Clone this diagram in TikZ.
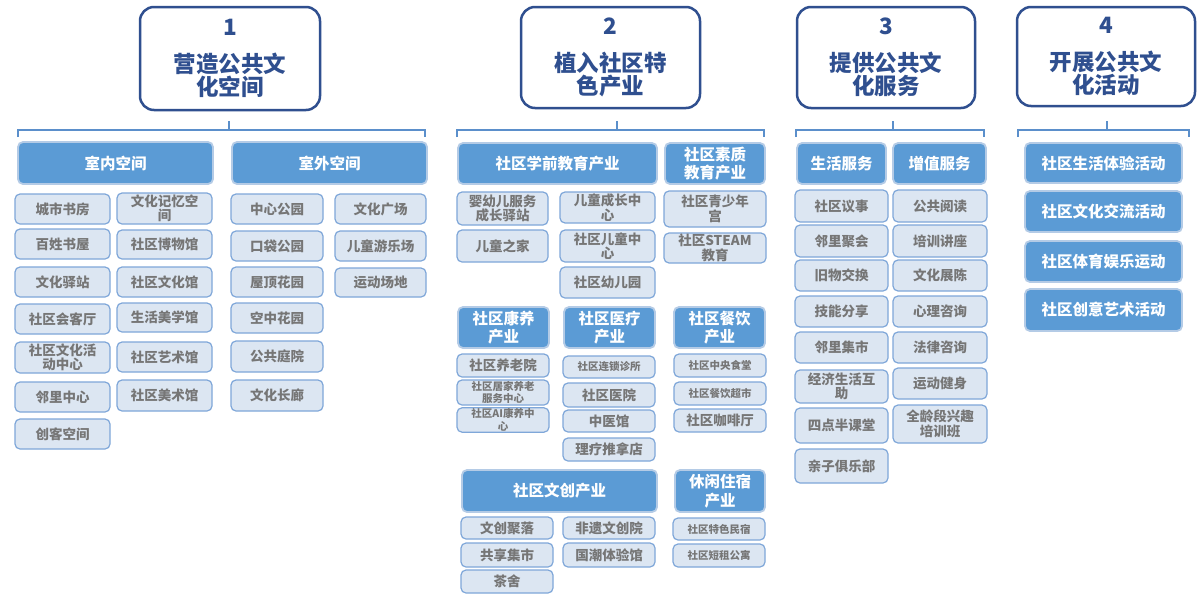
\documentclass[tikz,border=0pt]{standalone}
\usepackage{fontspec}
\setmainfont{Noto Sans CJK SC}
\definecolor{hdr}{HTML}{5B9BD5}
\definecolor{hdrglow}{HTML}{B4CBE6}
\definecolor{itemfill}{HTML}{DCE6F2}
\definecolor{itemdraw}{HTML}{7FA7D9}
\definecolor{itemtxt}{HTML}{767676}
\definecolor{navy}{HTML}{2F4F8F}
\definecolor{brkc}{HTML}{5B8FCB}
\newcommand\mybox[7][it]{\node[#1,minimum width={(#5)-(#3)},minimum height={(#6)-(#4)}] (#2) at ({((#3)+(#5))/2},{((#4)+(#6))/2}) {#7};}
\tikzset{
  base/.style={inner sep=1pt,outer sep=0pt,align=center},
  topbox/.style={base,draw=navy,line width=2.5pt,rounded corners=14pt,fill=white,text=navy,font=\fontsize{22.5}{23.5}\selectfont\bfseries},
  hd/.style={base,fill=hdr,draw=hdrglow,line width=1.8pt,rounded corners=5pt,text=white,font=\fontsize{15.5}{18.5}\selectfont\bfseries},
  it/.style={base,fill=itemfill,draw=itemdraw,line width=1.2pt,rounded corners=5pt,text=itemtxt,font=\fontsize{13.5}{14.5}\selectfont\bfseries},
  its/.style={it,font=\fontsize{10.5}{12.5}\selectfont\bfseries},
  brk/.style={draw=brkc,line width=1.5pt}
}
\begin{document}
\begin{tikzpicture}[x={(1pt,0pt)},y={(0pt,-1pt)}]
\useasboundingbox[fill=white] (0,0) rectangle (1200,611);
% top boxes
\mybox[topbox]{t1}{140}{7}{320}{110}{1\\[13pt]营造公共文\\化空间}
\mybox[topbox]{t2}{521}{7}{700}{108}{2\\[13pt]植入社区特\\色产业}
\mybox[topbox]{t3}{797}{7}{975}{108}{3\\[13pt]提供公共文\\化服务}
\mybox[topbox]{t4}{1017}{7}{1195}{106}{4\\[13pt]开展公共文\\化活动}
% bracket coordinates
\coordinate (k1) at (229,121); \coordinate (a1) at (18,137); \coordinate (z1) at (425,137);
\coordinate (k2) at (617,121); \coordinate (a2) at (457,137); \coordinate (z2) at (764,137);
\coordinate (k3) at (893,121); \coordinate (a3) at (796,137); \coordinate (z3) at (984,137);
\coordinate (k4) at (1107,121); \coordinate (a4) at (1018,137); \coordinate (z4) at (1189,137);
\foreach \i in {1,2,3,4}{
  \draw[brk] (a\i) -- ++(0,-7) -| (z\i);
  \draw[brk] (k\i) -- ++(0,9);
}
% group 1
\mybox[hd]{h11}{18}{142}{213}{184}{室内空间}
\mybox[hd]{h12}{232}{142}{427}{184}{室外空间}
\mybox{c1a}{15}{194}{110}{224}{城市书房}
\mybox{c1b}{15}{229}{110}{259}{百姓书屋}
\mybox{c1c}{15}{267}{110}{297}{文化驿站}
\mybox{c1d}{15}{304}{110}{334}{社区会客厅}
\mybox{c1e}{15}{342}{110}{373}{社区文化活\\动中心}
\mybox{c1f}{15}{382}{110}{412}{邻里中心}
\mybox{c1g}{15}{419}{110}{449}{创客空间}
\mybox{c2a}{117}{193}{212}{224}{文化记忆空\\间}
\mybox{c2b}{117}{230}{212}{259}{社区博物馆}
\mybox{c2c}{117}{267}{212}{297}{社区文化馆}
\mybox{c2d}{117}{303}{212}{332}{生活美学馆}
\mybox{c2e}{117}{342}{212}{372}{社区艺术馆}
\mybox{c2f}{117}{380}{212}{411}{社区美术馆}
\mybox{c3a}{231}{194}{323}{224}{中心公园}
\mybox{c3b}{231}{231}{323}{261}{口袋公园}
\mybox{c3c}{231}{267}{323}{297}{屋顶花园}
\mybox{c3d}{231}{303}{323}{333}{空中花园}
\mybox{c3e}{231}{341}{323}{372}{公共庭院}
\mybox{c3f}{231}{380}{323}{411}{文化长廊}
\mybox{c4a}{335}{194}{426}{224}{文化广场}
\mybox{c4b}{335}{231}{426}{261}{儿童游乐场}
\mybox{c4c}{335}{268}{426}{297}{运动场地}
% group 2
\mybox[hd]{h21}{458}{143}{657}{184}{社区学前教育产业}
\mybox[hd]{h22}{665}{143}{765}{184}{社区素质\\教育产业}
\mybox{d1}{457}{192}{548}{225}{婴幼儿服务\\成长驿站}
\mybox{d2}{560}{192}{655}{223}{儿童成长中\\心}
\mybox{d3}{457}{230}{548}{262}{儿童之家}
\mybox{d4}{560}{230}{655}{262}{社区儿童中\\心}
\mybox{d5}{560}{267}{655}{298}{社区幼儿园}
\mybox{d6}{664}{191}{766}{227}{社区青少年\\宫}
\mybox{d7}{664}{233}{766}{263}{社区STEAM\\教育}
\mybox[hd]{h23}{458}{307}{549}{348}{社区康养\\产业}
\mybox[hd]{h24}{564}{307}{655}{348}{社区医疗\\产业}
\mybox[hd]{h25}{674}{307}{765}{348}{社区餐饮\\产业}
\mybox{e1}{457}{354}{549}{377}{社区养老院}
\mybox[its]{e2}{457}{380}{549}{405}{社区居家养老\\服务中心}
\mybox[its]{e3}{457}{408}{549}{432}{社区AI康养中\\心}
\mybox[its]{e4}{563}{356}{655}{378}{社区连锁诊所}
\mybox{e5}{563}{383}{655}{407}{社区医院}
\mybox{e6}{563}{410}{655}{432}{中医馆}
\mybox{e7}{563}{438}{655}{461}{理疗推拿店}
\mybox[its]{e8}{674}{354}{766}{377}{社区中央食堂}
\mybox[its]{e9}{674}{382}{766}{405}{社区餐饮超市}
\mybox{e10}{674}{409}{766}{432}{社区咖啡厅}
\mybox[hd]{h26}{462}{470}{657}{512}{社区文创产业}
\mybox[hd]{h27}{675}{470}{765}{512}{休闲住宿\\产业}
\mybox{f1}{461}{517}{553}{539}{文创聚落}
\mybox{f2}{563}{517}{655}{539}{非遗文创院}
\mybox{f3}{461}{543}{553}{567}{共享集市}
\mybox{f4}{563}{543}{655}{567}{国潮体验馆}
\mybox{f5}{461}{570}{553}{593}{茶舍}
\mybox[its]{f6}{673}{518}{765}{540}{社区特色民宿}
\mybox[its]{f7}{673}{544}{765}{567}{社区短租公寓}
% group 3
\mybox[hd]{h31}{797}{143}{886}{184}{生活服务}
\mybox[hd]{h32}{893}{143}{986}{184}{增值服务}
\mybox{g1}{795}{190}{888}{222}{社区议事}
\mybox{g2}{795}{225}{888}{257}{邻里聚会}
\mybox{g3}{795}{260}{888}{291}{旧物交换}
\mybox{g4}{795}{296}{888}{327}{技能分享}
\mybox{g5}{795}{332}{888}{363}{邻里集市}
\mybox{g6}{795}{370}{888}{403}{经济生活互\\助}
\mybox{g7}{795}{408}{888}{443}{四点半课堂}
\mybox{g8}{795}{449}{888}{483}{亲子俱乐部}
\mybox{r1}{893}{190}{987}{222}{公共阅读}
\mybox{r2}{893}{225}{987}{257}{培训讲座}
\mybox{r3}{893}{260}{987}{291}{文化展陈}
\mybox{r4}{893}{296}{987}{327}{心理咨询}
\mybox{r5}{893}{332}{987}{363}{法律咨询}
\mybox{r6}{893}{368}{987}{399}{运动健身}
\mybox{r7}{893}{405}{987}{443}{全龄段兴趣\\培训班}
% group 4
\mybox[hd]{h41}{1025}{143}{1182}{183}{社区生活体验活动}
\mybox[hd]{h42}{1025}{191}{1182}{232}{社区文化交流活动}
\mybox[hd]{h43}{1025}{241}{1182}{282}{社区体育娱乐运动}
\mybox[hd]{h44}{1025}{289}{1182}{331}{社区创意艺术活动}
\end{tikzpicture}
\end{document}
